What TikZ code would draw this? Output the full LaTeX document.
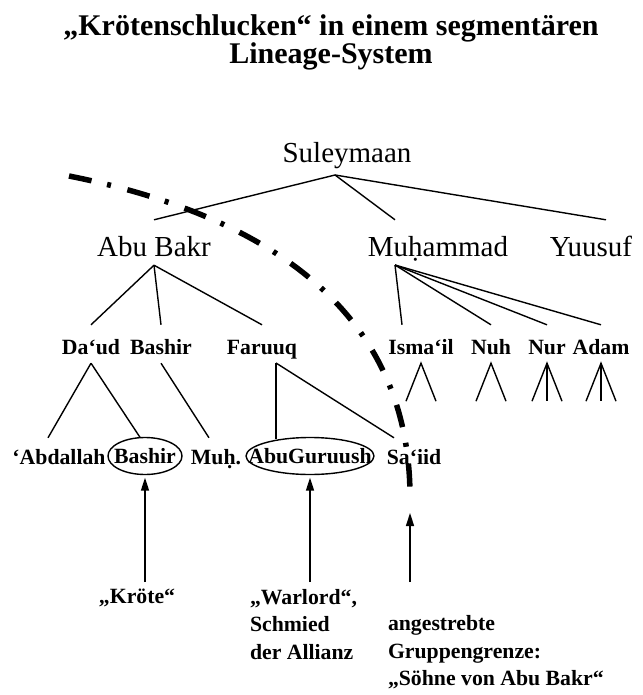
\documentclass[tikz,border=0pt]{standalone}
\usepackage{fontspec}
\setmainfont{Liberation Serif}
\usepackage{tikz}
\usetikzlibrary{arrows.meta}

\begin{document}
\begin{tikzpicture}[x=1pt, y=-1pt,
    ahn/.style={font=\fontsize{29}{29}\selectfont, inner sep=0pt, anchor=base, text height=36pt, text depth=9pt},
    sohn/.style={font=\bfseries\fontsize{21.75}{26}\selectfont, inner sep=0pt, anchor=base, text height=29pt, text depth=9pt},
    enkel/.style={font=\bfseries\fontsize{21.75}{26}\selectfont, inner sep=0pt, anchor=base, text height=26pt, text depth=6pt},
    oval/.style={font=\bfseries\fontsize{21.75}{26}\selectfont, inner sep=0pt, minimum height=37pt},
    notiz/.style={font=\bfseries\fontsize{21.75}{27.5}\selectfont, inner sep=0pt, outer xsep=0pt, outer ysep=7pt, align=left},
    ast/.style={line width=1.4pt},
    pfeil/.style={-{Triangle[length=13pt,width=8pt]}, line width=1.5pt},
    grenze/.style={line width=5.5pt, dash pattern=on 23pt off 16pt on 4pt off 17pt}]
    \useasboundingbox (0,0) rectangle (642,695);
    % Title
    \node[font=\bfseries\fontsize{30}{27}\selectfont, align=center, inner sep=0pt, anchor=north] (titel) at (331,14)
        {„Krötenschlucken“ in einem segmentären\\Lineage-System};
    % Generations
    \node[ahn] (suleymaan) at (347,162) {Suleymaan};
    \node[ahn] (abubakr) at (154,256) {Abu Bakr};
    \node[ahn] (muhammad) at (438,256) {Muḥammad};
    \node[ahn] (yuusuf) at (591,256) {Yuusuf};
    \node[sohn] (daud) at (91,354) {Da‘ud};
    \node[sohn] (bashir) at (161,354) {Bashir};
    \node[sohn] (faruuq) at (262,354) {Faruuq};
    \node[sohn] (ismail) at (421,354) {Isma‘il};
    \node[sohn] (nuh) at (491,354) {Nuh};
    \node[sohn] (nur) at (547,354) {Nur};
    \node[sohn] (adam) at (601,354) {Adam};
    \node[enkel] (abdallah) at (59,464) {‘Abdallah};
    \node[oval] (bashirK) at (145,456) {Bashir};
    \node[enkel] (muh) at (216,464) {Muḥ.};
    \node[oval] (abuguruush) at (310,456) {AbuGuruush};
    \node[enkel] (saiid) at (414,464) {Sa‘iid};
    \draw[ast] (bashirK) ellipse [x radius=37, y radius=18.5];
    \draw[ast] (abuguruush) ellipse [x radius=64, y radius=18.5];
    % Forks
    \coordinate (sul-gabel) at (335,175);
    \coordinate (muh-gabel) at (395,265);
    \coordinate (faruuq-gabel) at (276,363);
    \draw[ast] (sul-gabel) -- (abubakr.north);
    \draw[ast] (sul-gabel) -- (muh-gabel |- muhammad.north);
    \draw[ast] (sul-gabel) -- ([xshift=15pt]yuusuf.north);
    \foreach \k in {daud,bashir,faruuq} \draw[ast] (abubakr.south) -- (\k.north);
    \draw[ast] (muh-gabel) -- ([xshift=-19pt]ismail.north);
    \foreach \k in {nuh,nur,adam} \draw[ast] (muh-gabel) -- (\k.north);
    \foreach \k in {ismail,nuh,nur,adam}
        \draw[ast] ([xshift=-15pt,yshift=-38pt]\k.south) -- (\k.south) -- ([xshift=15pt,yshift=-38pt]\k.south);
    \foreach \k in {nur,adam} \draw[ast] (\k.south) -- ++(0,38);
    \draw[ast] (daud.south) -- ([xshift=-11pt]abdallah.north);
    \draw[ast] (daud.south) -- ([xshift=-5pt]bashirK.north);
    \draw[ast] (bashir.south) -- ([xshift=-7pt]muh.north);
    \draw[ast] (faruuq-gabel) -- ([yshift=-2pt]faruuq-gabel |- abuguruush.north);
    \draw[ast] (faruuq-gabel) -- ([xshift=-20pt]saiid.north);
    % Group border
    \coordinate (grenze-start) at (69,176);
    \coordinate (grenze-ende) at (410,497);
    \draw[grenze] (grenze-start) .. controls (250,212) and (410,300) .. (grenze-ende);
    % Notes and arrows
    \node[notiz, anchor=north] (kroete) at (137,582) {„Kröte“};
    \node[notiz, anchor=north west] (warlord) at (250,582) {„Warlord“,\\Schmied\\der Allianz};
    \node[notiz, anchor=north west] (ziel) at (388,582) {\vphantom{„K}\\angestrebte\\Gruppengrenze:\\„Söhne von Abu Bakr“};
    \draw[pfeil] (kroete.north -| bashirK.south) -- ([yshift=-3pt]bashirK.south);
    \draw[pfeil] (warlord.north -| abuguruush.south) -- ([yshift=-3pt]abuguruush.south);
    \draw[pfeil, shorten >=16pt] (ziel.north -| grenze-ende) -- (grenze-ende);
\end{tikzpicture}
\end{document}
